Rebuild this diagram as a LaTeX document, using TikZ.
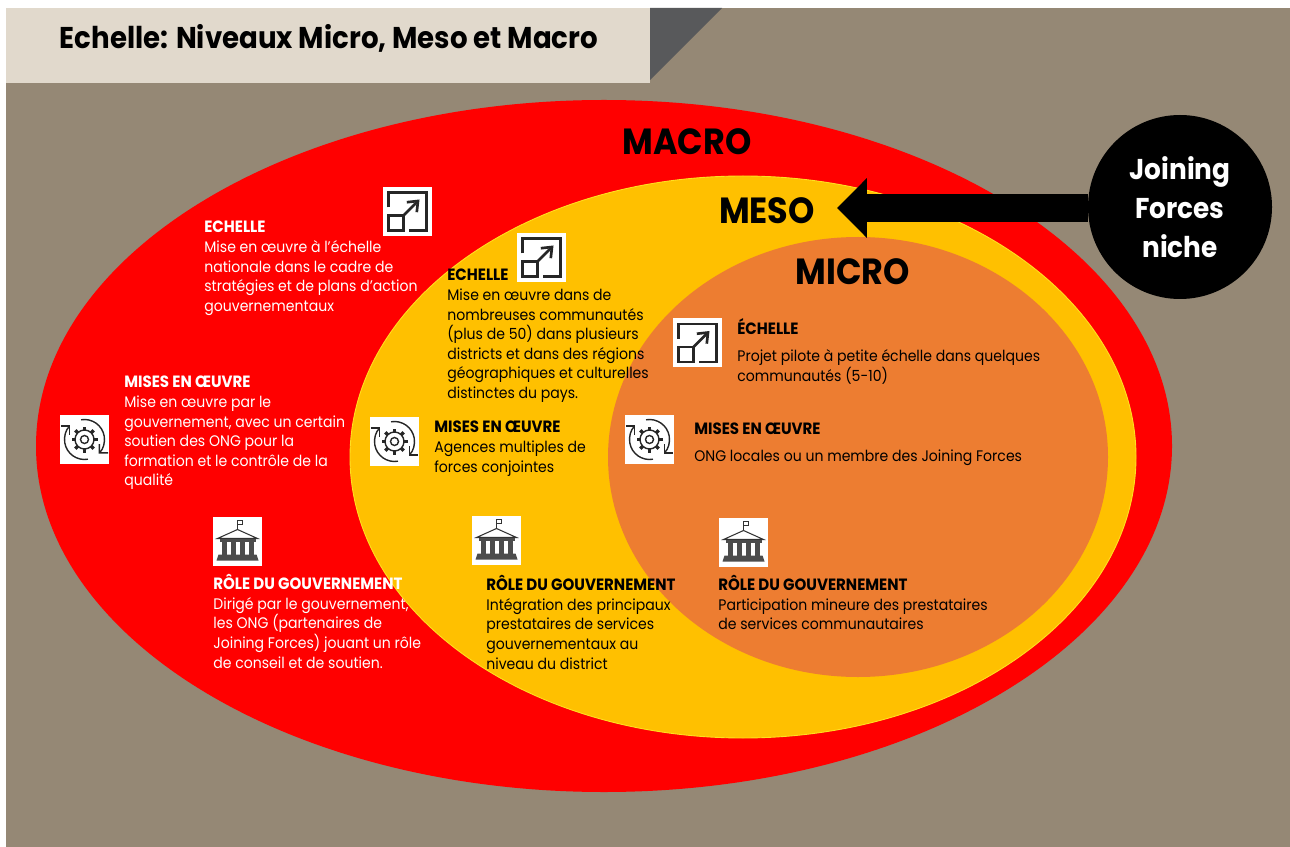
\documentclass[tikz,border=0pt]{standalone}
\usepackage{fontspec}
\usepackage{xcolor}
\setmainfont[FakeStretch=0.92]{Poppins}
\newcommand{\hd}[1]{{\fontsize{9.3}{11.15}\selectfont\bfseries #1}}
\usetikzlibrary{arrows.meta, positioning}

\definecolor{groundbrown}{HTML}{958875}
\definecolor{titlebeige}{HTML}{E1D9CC}
\definecolor{foldgrey}{HTML}{58595B}
\definecolor{macrored}{HTML}{FF0000}
\definecolor{mesoyellow}{HTML}{FFC000}
\definecolor{mesoedge}{HTML}{FFE020}
\definecolor{microorange}{HTML}{ED7D31}

\tikzset{
    level/.style={draw=none, font=\bfseries\fontsize{20.7}{24}\selectfont},
    bodytext/.style={anchor=north west, align=left, inner sep=0, font=\fontsize{8.7}{11.15}\selectfont},
    icondark/.style={line width=1.5pt, draw=black!85},
    iconthin/.style={line width=.8pt, draw=black!85},
    scaleicon/.pic={
        \fill[white] (-24.5,-24.5) rectangle (24.5,24.5);
        \draw[icondark] (-19,-4) -- (-19,-19) -- (19,-19) -- (19,19) -- (1,19);
        \draw[icondark] (-19,4) rectangle (-4,19);
        \draw[icondark, -{Straight Barb[length=5pt,width=8pt]}] (-4,4) -- (12,-12);
    },
    cycleicon/.pic={
        \fill[white] (-24.5,-24.5) rectangle (24.5,24.5);
        \draw[iconthin, -{Straight Barb[length=3.5pt,width=7pt]}] (-100:20) arc[start angle=-100, end angle=45, radius=20];
        \draw[iconthin, -{Straight Barb[length=3.5pt,width=7pt]}] (80:20) arc[start angle=80, end angle=225, radius=20];
        \foreach \a in {0,45,...,315} {
            \draw[line width=2pt, draw=black!85] (\a:8) -- (\a:13);
        }
        \draw[iconthin, fill=white] (0,0) circle (9.5);
        \draw[iconthin] (0,0) circle (4);
    },
    govicon/.pic={
        \fill[white] (-24.5,-24.5) rectangle (24.5,24.5);
        \draw[line width=.5pt, draw=black!80] (0,-10) -- (0,-21);
        \draw[line width=.5pt, draw=black!80, fill=white] (0,-21) rectangle (5,-17);
        \draw[line width=.6pt, draw=black!80, fill=white] (-20,-3) -- (0,-12) -- (20,-3) -- cycle;
        \fill[black!70] (-18,-3) rectangle (18,0);
        \foreach \x in {-14,-5,4,13} {
            \fill[black!70] (\x-2,0) rectangle (\x+3,13);
        }
        \fill[black!70] (-19,13) -- (19,13) -- (21,19) -- (-21,19) -- cycle;
    }
}

\begin{document}
\begin{tikzpicture}[x=0.02cm, y=-0.02cm]
    \useasboundingbox (0,0) rectangle (1290,847);
    \fill[groundbrown] (6,8) rectangle (1290,847);
    \fill[foldgrey] (650,8) -- (722,8) -- (650,80) -- cycle;
    \fill[titlebeige] (6,8) rectangle (650,83);
    \node[inner sep=0, font=\fontsize{17.1}{20}\selectfont\bfseries] (title) at (329,38) {Echelle: Niveaux Micro, Meso et Macro};

    \fill[macrored] (604,446) ellipse [x radius=568, y radius=346];
    \filldraw[mesoyellow, draw=mesoedge, line width=.5pt] (743,457) ellipse [x radius=393, y radius=281];
    \fill[microorange] (858,457) ellipse [x radius=250, y radius=220];

    \node[level] (macro) at (687,142) {MACRO};
    \node[level] (meso) at (767,211) {MESO};
    \node[level] (micro) at (853,272) {MICRO};

    \coordinate (tip) at (837,208);
    \node[circle, fill=black, minimum size=184*0.02cm, inner sep=0, text=white, align=center,
        font=\bfseries\fontsize{16.3}{22}\selectfont] (niche) at (1180,207) {Joining\\Forces\\niche};
    \draw[black, line width=15.9pt, -{Triangle[length=17pt,width=33pt]}] (niche.west |- tip) -- (tip);

    \pic (scalemacro) at (407.5,211.5) {scaleicon};
    \pic (scalemeso) at (541.5,257.5) {scaleicon};
    \pic (scalemicro) at (697.5,343) {scaleicon};
    \pic (cyclemacro) at (84.5,439.5) {cycleicon};
    \pic (cyclemeso) at (394.5,441.5) {cycleicon};
    \pic (cyclemicro) at (649.5,439.5) {cycleicon};
    \pic (govmacro) at (237.5,541.5) {govicon};
    \pic (govmeso) at (496.5,540.5) {govicon};
    \pic (govmicro) at (743.5,542.5) {govicon};

    \node[bodytext, text=white] (echellemacro) at (204,221) {\hd{ECHELLE}\\Mise en œuvre à l'échelle\\nationale dans le cadre de\\stratégies et de plans d'action\\gouvernementaux};
    \node[bodytext, text=white] (misesmacro) at (124,376) {\hd{MISES EN ŒUVRE}\\Mise en œuvre par le\\gouvernement, avec un certain\\soutien des ONG pour la\\formation et le contrôle de la\\qualité};
    \node[bodytext, text=white] (rolemacro) at (213,574) {\hd{RÔLE DU GOUVERNEMENT}\\Dirigé par le gouvernement,\\les ONG (partenaires de\\Joining Forces) jouant un rôle\\de conseil et de soutien.};

    \node[bodytext] (echellemeso) at (447,269) {\hd{ECHELLE}\\Mise en œuvre dans de\\nombreuses communautés\\(plus de 50) dans plusieurs\\districts et dans des régions\\géographiques et culturelles\\distinctes du pays.};
    \node[bodytext] (misesmeso) at (434,421) {\hd{MISES EN ŒUVRE}\\Agences multiples de\\forces conjointes};
    \node[bodytext] (rolemeso) at (486,575) {\hd{RÔLE DU GOUVERNEMENT}\\Intégration des principaux\\prestataires de services\\gouvernementaux au\\niveau du district};

    \node[bodytext] (echellemicro) at (737,318) {\hd{ÉCHELLE}\\[4.5pt]Projet pilote à petite échelle dans quelques\\communautés (5-10)};
    \node[bodytext] (misesmicro) at (694,423) {\hd{MISES EN ŒUVRE}\\[4pt]ONG locales ou un membre des Joining Forces};
    \node[bodytext] (rolemicro) at (718,575) {\hd{RÔLE DU GOUVERNEMENT}\\Participation mineure des prestataires\\de services communautaires};
\end{tikzpicture}
\end{document}
